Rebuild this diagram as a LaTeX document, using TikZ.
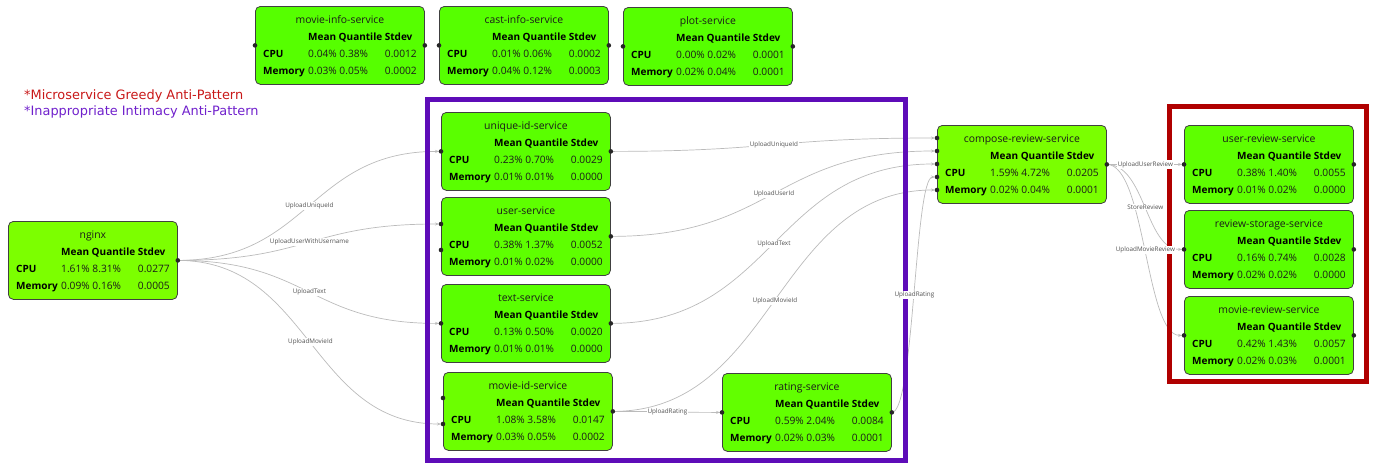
\documentclass[tikz,border=0pt]{standalone}
\usepackage{fontspec}
\setmainfont{Open Sans}
\newfontfamily\legfont{DejaVu Sans}
\usetikzlibrary{calc,arrows.meta}
\definecolor{cA}{HTML}{7CFF00}
\definecolor{cB}{HTML}{7AFF00}
\definecolor{cC}{HTML}{6CFF00}
\definecolor{cD}{HTML}{62FF00}
\definecolor{cE}{HTML}{5EFF00}
\definecolor{cF}{HTML}{5AFF00}
\definecolor{cG}{HTML}{56FF00}
\definecolor{edgec}{HTML}{BBBBBB}
\definecolor{labc}{HTML}{505050}
\definecolor{purp}{RGB}{94,12,184}
\definecolor{redf}{RGB}{176,0,0}
\definecolor{legred}{RGB}{200,24,24}
\definecolor{legpurp}{RGB}{112,32,204}
\definecolor{txtc}{HTML}{1A1A1A}
\newcommand{\svc}[9]{%
  \node[svcbox, fill=#9, anchor=north west] (#1) at (#2,#3) {};
  \node[ttl] (#1-t) at ($(#1.north)+(0,14)$) {#4};
  \node[hdr, anchor=west] (#1-h) at ($(#1.north west)+(53,31)$) {Mean Quantile Stdev};
  \node[rowlab, anchor=west] (#1-cl) at ($(#1.north west)+(8,48)$) {CPU};
  \node[valtxt, anchor=west] (#1-cv) at ($(#1.north west)+(53,48)$) {#5};
  \node[valtxt, anchor=east] (#1-cs) at ($(#1.north west)+(162,48)$) {#6};
  \node[rowlab, anchor=west] (#1-ml) at ($(#1.north west)+(8,65)$) {Memory};
  \node[valtxt, anchor=west] (#1-mv) at ($(#1.north west)+(53,65)$) {#7};
  \node[valtxt, anchor=east] (#1-ms) at ($(#1.north west)+(162,65)$) {#8};
}
\begin{document}
\begin{tikzpicture}[x=1pt,y=-1pt,
  svcbox/.style={draw=black!75, line width=0.8pt, rounded corners=5pt, minimum width=169pt, minimum height=78pt, inner sep=0pt},
  ttl/.style={inner sep=0pt, text=txtc, font=\fontsize{10.4}{12}\selectfont, text height=8pt, text depth=2pt},
  hdr/.style={inner sep=0pt, text=black, font=\fontsize{10}{12}\selectfont\bfseries, text height=8pt, text depth=2pt},
  rowlab/.style={inner sep=0pt, text=black, font=\fontsize{10}{12}\selectfont\bfseries, text height=8pt, text depth=2pt},
  valtxt/.style={inner sep=0pt, text=txtc, font=\fontsize{10.2}{12}\selectfont, text height=8pt, text depth=2pt},
  edge/.style={draw=edgec, line width=0.7pt, -{Stealth[length=4pt,width=3pt]}, shorten >=2pt},
  hb/.style={to path={let \p1=(\tikztostart), \p2=(\tikztotarget), \n1={0.5*(\x2-\x1)} in
     .. controls ({\x1+\n1},{\y1}) and ({\x2-\n1},{\y2}) .. (\tikztotarget) \tikztonodes}},
  elab/.style={fill=white, inner sep=1pt, text=labc, font=\fontsize{6.3}{7.5}\selectfont},
  port/.style={fill=black!85},
  frame/.style={line width=5pt}
]
\useasboundingbox (0,0) rectangle (1376,466);

% services
\svc{nginx}{8}{221}{nginx}{1.61\% 8.31\%}{0.0277}{0.09\% 0.16\%}{0.0005}{cA}
\svc{minfo}{255}{6}{movie-info-service}{0.04\% 0.38\%}{0.0012}{0.03\% 0.05\%}{0.0002}{cG}
\svc{cinfo}{439}{6}{cast-info-service}{0.01\% 0.06\%}{0.0002}{0.04\% 0.12\%}{0.0003}{cG}
\svc{plot}{623}{7}{plot-service}{0.00\% 0.02\%}{0.0001}{0.02\% 0.04\%}{0.0001}{cG}
\svc{uid}{441}{112}{unique-id-service}{0.23\% 0.70\%}{0.0029}{0.01\% 0.01\%}{0.0000}{cF}
\svc{usr}{441}{197}{user-service}{0.38\% 1.37\%}{0.0052}{0.01\% 0.02\%}{0.0000}{cE}
\svc{txt}{441}{284}{text-service}{0.13\% 0.50\%}{0.0020}{0.01\% 0.01\%}{0.0000}{cF}
\svc{mid}{443}{372}{movie-id-service}{1.08\% 3.58\%}{0.0147}{0.03\% 0.05\%}{0.0002}{cC}
\svc{rat}{722}{373}{rating-service}{0.59\% 2.04\%}{0.0084}{0.02\% 0.03\%}{0.0001}{cD}
\svc{cmp}{937}{125}{compose-review-service}{1.59\% 4.72\%}{0.0205}{0.02\% 0.04\%}{0.0001}{cB}
\svc{urv}{1184}{125}{user-review-service}{0.38\% 1.40\%}{0.0055}{0.01\% 0.02\%}{0.0000}{cE}
\svc{rsv}{1184}{210}{review-storage-service}{0.16\% 0.74\%}{0.0028}{0.02\% 0.02\%}{0.0000}{cF}
\svc{mrv}{1184}{296}{movie-review-service}{0.42\% 1.43\%}{0.0057}{0.02\% 0.03\%}{0.0001}{cD}

% ports
\coordinate (nginx-o) at (nginx.east);
\coordinate (minfo-i) at (minfo.west); \coordinate (minfo-o) at (minfo.east);
\coordinate (cinfo-i) at (cinfo.west); \coordinate (cinfo-o) at (cinfo.east);
\coordinate (plot-i) at (plot.west); \coordinate (plot-o) at (plot.east);
\coordinate (uid-i) at (uid.west); \coordinate (uid-o) at (uid.east);
\coordinate (usr-i1) at ($(usr.north west)+(0,27)$);
\coordinate (usr-i2) at ($(usr.north west)+(0,53)$);
\coordinate (usr-o) at (usr.east);
\coordinate (txt-i) at (txt.west); \coordinate (txt-o) at (txt.east);
\coordinate (mid-i1) at ($(mid.north west)+(0,26)$);
\coordinate (mid-i2) at ($(mid.north west)+(0,52)$);
\coordinate (mid-o) at (mid.east);
\coordinate (rat-i) at (rat.west); \coordinate (rat-o) at (rat.east);
\coordinate (cmp-i1) at ($(cmp.north west)+(0,13)$);
\coordinate (cmp-i2) at ($(cmp.north west)+(0,26)$);
\coordinate (cmp-i3) at ($(cmp.north west)+(0,39)$);
\coordinate (cmp-i4) at ($(cmp.north west)+(0,52)$);
\coordinate (cmp-i5) at ($(cmp.north west)+(0,65)$);
\coordinate (cmp-o) at (cmp.east);
\coordinate (urv-i) at (urv.west); \coordinate (urv-o) at (urv.east);
\coordinate (rsv-i) at (rsv.west); \coordinate (rsv-o) at (rsv.east);
\coordinate (mrv-i) at (mrv.west); \coordinate (mrv-o) at (mrv.east);

% edges
\draw[edge] (nginx-o) to[hb] coordinate[pos=0.5] (e1) (uid-i);
\draw[edge] (nginx-o) to[hb] coordinate[pos=0.5] (e2) (usr-i1);
\draw[edge] (nginx-o) to[hb] coordinate[pos=0.5] (e3) (txt-i);
\draw[edge] (nginx-o) to[hb] coordinate[pos=0.5] (e4) (mid-i2);
\draw[edge] (uid-o) to[hb] coordinate[pos=0.5] (e5) (cmp-i1);
\draw[edge] (usr-o) to[hb] coordinate[pos=0.5] (e6) (cmp-i2);
\draw[edge] (txt-o) to[hb] coordinate[pos=0.5] (e7) (cmp-i3);
\draw[edge] (rat-o) to[hb] coordinate[pos=0.5] (e8) (cmp-i4);
\draw[edge] (mid-o) to[hb] coordinate[pos=0.5] (e9) (cmp-i5);
\draw[edge] (mid-o) to[hb] coordinate[pos=0.5] (e10) (rat-i);
\draw[edge] (cmp-o) to[hb] coordinate[pos=0.5] (e11) (urv-i);
\draw[edge] (cmp-o) to[hb] coordinate[pos=0.5] (e12) (rsv-i);
\draw[edge] (cmp-o) to[hb] coordinate[pos=0.5] (e13) (mrv-i);

% frames
\draw[frame, draw=purp] (427,99) rectangle (905,460);
\draw[frame, draw=redf] (1169,106) rectangle (1366,381);

% edge labels
\node[elab] (l1) at (e1) {UploadUniqueId};
\node[elab] (l2) at (e2) {UploadUserWithUsername};
\node[elab] (l3) at (e3) {UploadText};
\node[elab] (l4) at (e4) {UploadMovieId};
\node[elab] (l5) at (e5) {UploadUniqueId};
\node[elab] (l6) at (e6) {UploadUserId};
\node[elab] (l7) at (e7) {UploadText};
\node[elab] (l8) at (e8) {UploadRating};
\node[elab] (l9) at (e9) {UploadMovieId};
\node[elab] (l10) at (e10) {UploadRating};
\node[elab] (l11) at (e11) {UploadUserReview};
\node[elab] (l12) at (e12) {StoreReview};
\node[elab] (l13) at (e13) {UploadMovieReview};

% port dots
\foreach \p in {nginx-o,minfo-i,minfo-o,cinfo-i,cinfo-o,plot-i,plot-o,uid-i,uid-o,usr-i1,usr-i2,usr-o,txt-i,txt-o,mid-i1,mid-i2,mid-o,rat-i,rat-o,cmp-i1,cmp-i2,cmp-i3,cmp-i4,cmp-i5,cmp-o,urv-i,urv-o,rsv-i,rsv-o,mrv-i,mrv-o}
  \fill[port] (\p) circle (2.3pt);

% legend
\node[anchor=west, inner sep=0pt, text=legred, font=\legfont\fontsize{12.9}{14}\selectfont] (leg1) at (24,96) {*Microservice Greedy Anti-Pattern};
\node[anchor=west, inner sep=0pt, text=legpurp, font=\legfont\fontsize{12.9}{14}\selectfont] (leg2) at (24,112) {*Inappropriate Intimacy Anti-Pattern};
\end{tikzpicture}
\end{document}
